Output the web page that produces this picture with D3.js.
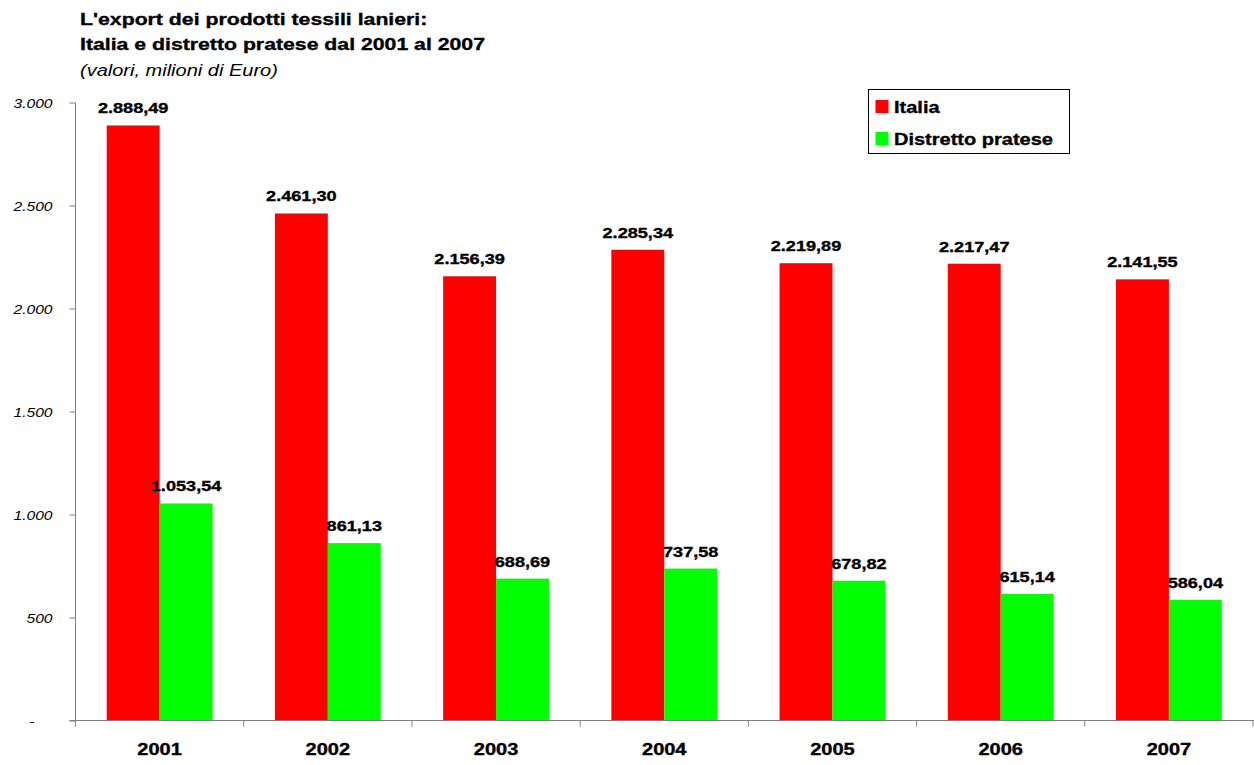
<!DOCTYPE html>
<html>
<head>
<meta charset="utf-8">
<script src="https://cdn.jsdelivr.net/npm/d3@7"></script>
<style>
  html, body { margin: 0; padding: 0; background: #fff; }
  svg { display: block; font-family: Arial, "Liberation Sans", sans-serif; }
  .heavy { stroke: #000; stroke-width: 0.35px; }
</style>
</head>
<body>
<svg id="chart" width="1254" height="765"></svg>
<script>
// Export of wool textile products, millions of Euro
const years = ["2001", "2002", "2003", "2004", "2005", "2006", "2007"];
const italia = [2888.49, 2461.30, 2156.39, 2285.34, 2219.89, 2217.47, 2141.55];
const prato = [1053.54, 861.13, 688.69, 737.58, 678.82, 615.14, 586.04];
const seriesNames = ["Italia", "Distretto pratese"];
const seriesColors = ["#ff0000", "#00ff00"];
const yTicks = [0, 500, 1000, 1500, 2000, 2500, 3000];

const svg = d3.select("#chart");
const plotLeft = 75.5, plotRight = 1253, plotTop = 102.5, plotBottom = 720.5;
const SX = 1.25; // wide horizontal text proportions

const x = d3.scaleBand().domain(years).range([plotLeft, plotRight]).paddingInner(0).paddingOuter(0);
const inner = d3.scaleBand().domain(seriesNames).range([0, x.bandwidth()]).paddingInner(0).paddingOuter(0.59);
const y = d3.scaleLinear().domain([0, 3000]).range([plotBottom, plotTop]);

const itFmt = d3.formatLocale({ decimal: ",", thousands: ".", grouping: [3], currency: ["€", ""] });
const fmtVal = itFmt.format(",.2f");
const fmtTick = v => v === 0 ? "-" : itFmt.format(",")(v);

// place text at (px, py) with widened glyphs
function label(parent, px, py, str) {
  return parent.append("text")
    .attr("transform", `translate(${px},${py}) scale(${SX},1)`)
    .text(str);
}

// Title
const title = svg.append("g").attr("font-weight", "bold").attr("font-size", 17).attr("fill", "#000").attr("class", "heavy");
label(title, 80, 25, "L'export dei prodotti tessili lanieri:");
label(title, 80, 50, "Italia e distretto pratese dal 2001 al 2007");
label(svg, 80, 76, "(valori, milioni di Euro)").attr("font-size", 16).attr("font-style", "italic");

// Bars
const data = years.map((yr, i) => ({ yr, vals: [italia[i], prato[i]] }));
const groups = svg.append("g").selectAll("g").data(data).join("g")
  .attr("transform", d => `translate(${x(d.yr)},0)`);

groups.selectAll("rect").data(d => d.vals.map((v, k) => ({ v, k }))).join("rect")
  .attr("x", d => inner(seriesNames[d.k]))
  .attr("width", inner.bandwidth())
  .attr("y", d => y(d.v))
  .attr("height", d => y(0) - y(d.v))
  .attr("fill", d => seriesColors[d.k]);

groups.selectAll("text").data(d => d.vals.map((v, k) => ({ v, k }))).join("text")
  .attr("transform", d => `translate(${inner(seriesNames[d.k]) + inner.bandwidth() / 2},${y(d.v) - 12}) scale(${SX},1)`)
  .attr("text-anchor", "middle")
  .attr("font-weight", "bold")
  .attr("font-size", 14.5)
  .attr("class", "heavy")
  .text(d => fmtVal(d.v));

// Y axis
const yAxis = d3.axisLeft(y).tickValues(yTicks).tickSize(6).tickFormat(fmtTick);
const gy = svg.append("g").attr("transform", `translate(${plotLeft},0)`).call(yAxis);
gy.select(".domain").attr("stroke", "#808080").attr("d", `M0,${plotTop}V${plotBottom}`);
gy.selectAll(".tick line").attr("stroke", "#808080");
gy.selectAll(".tick text")
  .attr("x", null).attr("dy", null)
  .attr("transform", d => `translate(${d === 0 ? -41 : -23},4.5) scale(${SX},1)`)
  .attr("font-size", 12.5).attr("font-style", "italic")
  .attr("font-family", "Arial, 'Liberation Sans', sans-serif").attr("fill", "#000");

// X axis with ticks at category boundaries
const gx = svg.append("g").attr("transform", `translate(0,${plotBottom})`);
gx.append("line").attr("x1", plotLeft - 6).attr("x2", plotRight + 1).attr("stroke", "#808080");
const bounds = years.map(yr => x(yr)).concat([plotRight]);
gx.selectAll("line.tk").data(bounds).join("line").attr("class", "tk")
  .attr("x1", d => d).attr("x2", d => d).attr("y1", 0).attr("y2", 6).attr("stroke", "#808080");
gx.selectAll("text").data(years).join("text")
  .attr("transform", d => `translate(${x(d) + x.bandwidth() / 2},34) scale(${SX},1)`)
  .attr("text-anchor", "middle")
  .attr("font-weight", "bold")
  .attr("font-size", 16)
  .attr("class", "heavy")
  .text(d => d);

// Legend
const lg = svg.append("g").attr("transform", "translate(868.5,89.5)");
lg.append("rect").attr("width", 201).attr("height", 64).attr("fill", "#fff").attr("stroke", "#000").attr("stroke-width", 1);
seriesNames.forEach((name, i) => {
  lg.append("rect").attr("x", 7).attr("y", 10.5 + i * 32).attr("width", 13).attr("height", 13).attr("fill", seriesColors[i]);
  label(lg, 25.5, 23 + i * 32.5, name).attr("font-weight", "bold").attr("font-size", 16).attr("class", "heavy");
});
</script>
</body>
</html>
